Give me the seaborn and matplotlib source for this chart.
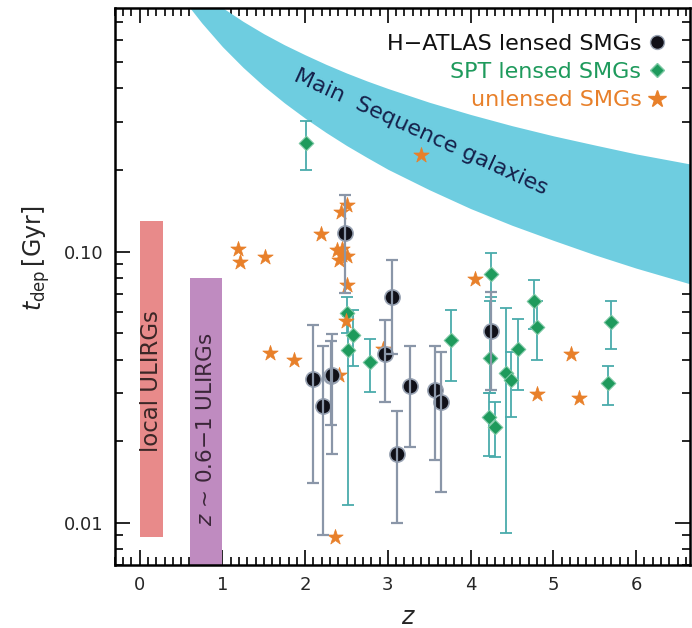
import numpy as np
import pandas as pd
import matplotlib
matplotlib.use("Agg")
import matplotlib.pyplot as plt
from matplotlib.lines import Line2D
import seaborn as sns

# ---------------- data ----------------
# H-ATLAS lensed SMGs
hat_z = [2.09, 2.21, 2.31, 2.33, 2.48, 2.96, 3.05, 3.11, 3.27, 3.57, 3.64, 4.24]
hat_t = [0.0339, 0.0269, 0.0347, 0.0352, 0.117, 0.042, 0.068, 0.018, 0.032, 0.031, 0.028, 0.051]
hat_hi = [0.0538, 0.045, 0.047, 0.0497, 0.162, 0.0558, 0.0934, 0.0259, 0.045, 0.0448, 0.0427, 0.071]
hat_lo = [0.0140, 0.0090, 0.0229, 0.018, 0.0705, 0.0279, 0.042, 0.0100, 0.019, 0.017, 0.013, 0.031]

# SPT lensed SMGs
spt_z = [2.01, 2.51, 2.58, 2.52, 2.78, 3.76, 4.24, 4.23, 4.22, 4.30, 4.43, 4.49, 4.57, 4.77, 4.80, 5.70, 5.66]
spt_t = [0.251, 0.0594, 0.0494, 0.0435, 0.0391, 0.0472, 0.0828, 0.0407, 0.0245, 0.0226, 0.0357, 0.0335,
         0.0438, 0.0656, 0.0528, 0.0548, 0.0327]
spt_hi = [0.303, 0.068, 0.0607, 0.058, 0.0478, 0.061, 0.099, 0.066, 0.030, 0.028, 0.062, 0.0427,
          0.0565, 0.0788, 0.066, 0.066, 0.038]
spt_lo = [0.200, 0.050, 0.0379, 0.0116, 0.0303, 0.0334, 0.068, 0.030, 0.0177, 0.0175, 0.0092, 0.0245,
          0.031, 0.052, 0.0399, 0.0436, 0.0272]

# unlensed SMGs
unl_z = [1.19, 1.21, 1.51, 2.19, 2.51, 2.43, 2.38, 2.45, 2.50, 2.41, 2.44, 2.51, 2.49,
         1.58, 1.86, 2.41, 2.94, 2.36, 3.40, 4.05, 4.80, 5.21, 5.31]
unl_t = [0.102, 0.0916, 0.0953, 0.116, 0.148, 0.1396, 0.101, 0.102, 0.096, 0.0935, 0.097, 0.075, 0.0553,
         0.0422, 0.0399, 0.0351, 0.0437, 0.00885, 0.2265, 0.0793, 0.0299, 0.042, 0.0288]

# Main-sequence band (edges read along the band)
ms_z = [0.61, 0.75, 1.0, 1.25, 1.5, 1.75, 2.0, 2.25, 2.5, 2.75, 3.0, 3.5, 4.0, 4.5, 5.0, 5.5, 6.0, 6.7]
ms_lo = [0.789, 0.696, 0.569, 0.477, 0.407, 0.353, 0.310, 0.275, 0.246, 0.222, 0.201, 0.169, 0.144,
         0.125, 0.110, 0.0973, 0.0869, 0.0753]
ms_hi = [0.98, 0.905, 0.792, 0.705, 0.635, 0.578, 0.531, 0.490, 0.455, 0.425, 0.399, 0.355, 0.320,
         0.291, 0.267, 0.247, 0.229, 0.209]

# ULIRG boxes
local_z = [0.0, 0.28]
local_t = [0.0089, 0.130]
mid_z = [0.61, 1.0]
mid_t = [0.006, 0.0797]

xticks = [0, 1, 2, 3, 4, 5, 6]
yticks = [0.01, 0.1]
ytick_labels = ["0.01", "0.10"]

# ---------------- styling ----------------
sns.set_theme(style="ticks")
plt.rcParams['font.family'] = ['DejaVu Sans']
plt.rcParams['mathtext.fontset'] = 'dejavusans'

fig = plt.figure(figsize=(6.92, 6.28), dpi=100)
ax = fig.add_axes([0.166, 0.1003, 0.831, 0.887])
ax.set_yscale('log')
ax.set_xlim(-0.3, 6.65)
ax.set_ylim(0.0070, 0.79)

c_band = '#6ECDE0'
c_local = '#E88A8A'
c_mid = '#BF8BC0'
c_hat_err = '#8A96A8'
c_spt_err = '#4AABAB'
c_spt = '#1E9A5C'
c_unl = '#E8802A'

# band
ax.fill_between(ms_z, ms_lo, ms_hi, color=c_band, lw=0, zorder=1)
ax.text(3.40, 0.276, "Main  Sequence galaxies", rotation=-24.5, rotation_mode='anchor',
        ha='center', va='center', fontsize=16, color='#15204A', zorder=2)

# boxes
ax.fill_between(local_z, local_t[0], local_t[1], color=c_local, lw=0, zorder=1)
ax.fill_between(mid_z, mid_t[0], mid_t[1], color=c_mid, lw=0, zorder=1)
ax.text(np.mean(local_z), 0.0334, "local ULIRGs", rotation=90, ha='center', va='center',
        fontsize=16.5, color='#3A2626', zorder=2)
ax.text(np.mean(mid_z), 0.0222, r"$\it{z}$ ~ 0.6$-$1 ULIRGs", rotation=90, ha='center', va='center',
        fontsize=15.5, color='#3A2638', zorder=2)

# dataframes
df_h = pd.DataFrame({'z': hat_z, 't': hat_t, 'hi': hat_hi, 'lo': hat_lo})
df_s = pd.DataFrame({'z': spt_z, 't': spt_t, 'hi': spt_hi, 'lo': spt_lo})
df_u = pd.DataFrame({'z': unl_z, 't': unl_t})

# SPT
ax.errorbar(df_s['z'], df_s['t'], yerr=[df_s['t'] - df_s['lo'], df_s['hi'] - df_s['t']],
            fmt='none', ecolor=c_spt_err, elinewidth=1.3, capsize=4, capthick=1.3, zorder=3)
sns.scatterplot(data=df_s, x='z', y='t', marker='D', s=55, color=c_spt, edgecolor='#7CC8A4',
                linewidth=0.8, ax=ax, zorder=4, legend=False)

# unlensed
sns.scatterplot(data=df_u, x='z', y='t', marker='*', s=135, color=c_unl, edgecolor=c_unl,
                linewidth=0.5, ax=ax, zorder=5, legend=False)

# H-ATLAS
sns.scatterplot(data=df_h, x='z', y='t', marker='o', s=120, color='#101018', edgecolor='#9AA4B4',
                linewidth=1.2, ax=ax, zorder=6, legend=False)
ax.errorbar(df_h['z'], df_h['t'], yerr=[df_h['t'] - df_h['lo'], df_h['hi'] - df_h['t']],
            fmt='none', ecolor=c_hat_err, elinewidth=1.6, capsize=4.5, capthick=1.6, zorder=7)

# axes
ax.set_xticks(xticks)
ax.set_xticks(np.arange(-0.3, 6.7, 0.1), minor=True)
ax.set_yticks(yticks)
ax.set_yticklabels(ytick_labels)
ax.tick_params(which='both', direction='in', top=True, right=True, labelsize=13, width=1.4)
ax.tick_params(which='major', length=11, pad=8)
ax.tick_params(which='minor', length=5.5)
for sp in ax.spines.values():
    sp.set_linewidth(1.8)
    sp.set_color('black')

ax.set_xlabel(r"$z$", fontsize=17)
ax.xaxis.set_label_coords(0.51, -0.072)
ax.set_ylabel(r"$t_{\rm dep}\,$[Gyr]", fontsize=17)
ax.yaxis.set_label_coords(-0.11, 0.55)

handles = [
    Line2D([], [], marker='o', ls='none', color='#101018', markeredgecolor='#9AA4B4', markersize=10),
    Line2D([], [], marker='D', ls='none', color=c_spt, markeredgecolor='#7CC8A4', markersize=7),
    Line2D([], [], marker='*', ls='none', color=c_unl, markersize=13),
]
labels = ["H\u2212ATLAS lensed SMGs", "SPT lensed SMGs", "unlensed SMGs"]
ax.legend(handles, labels, loc='upper right', markerfirst=False, frameon=False, fontsize=16,
          labelcolor=['#111111', c_spt, c_unl], handletextpad=0.25, handlelength=0.9,
          labelspacing=0.38, borderaxespad=0.5, bbox_to_anchor=(0.995, 0.99))

fig.savefig("out.png", dpi=100)
